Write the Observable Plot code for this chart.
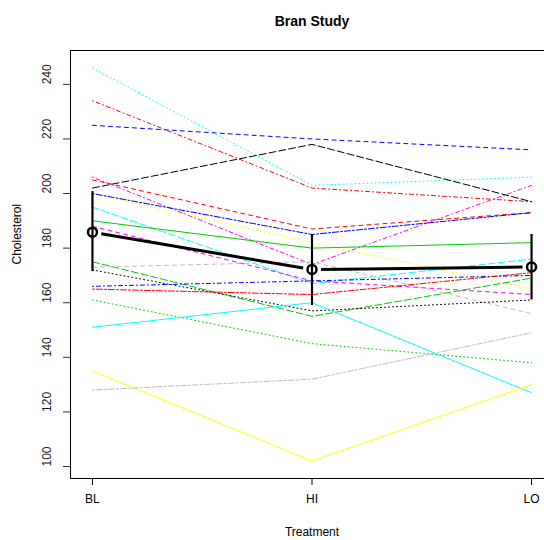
<!DOCTYPE html>
<html><head><meta charset="utf-8">
<script src="https://cdn.jsdelivr.net/npm/d3@7"></script>
<script src="https://cdn.jsdelivr.net/npm/@observablehq/plot@0.6"></script>
<style>
body{margin:0;background:#fff;}
#chart{width:544px;height:540px;}
</style>
</head><body><div id="chart"></div>
<script>
const treatments = ["BL", "HI", "LO"];
const yTicks = [100, 120, 140, 160, 180, 200, 220, 240];
// cholesterol per subject at BL, HI, LO
const blValues = [246, 234, 225, 206, 205, 202, 200, 200, 195, 190, 188, 175, 173, 172, 166, 165, 161, 151, 135, 128];
const hiValues = [203, 202, 220, 174, 187, 218, 182, 185, 167, 180, 168, 155, 175, 157, 168, 163, 145, 160, 102, 132];
const loValues = [206, 197, 216, 203, 193, 197, 165, 193, 176, 182, 163, 169, 156, 161, 170, 171, 138, 127, 130, 149];
// confidence interval ends around the treatment means
const ciLower = [171.4, 159, 161];
const ciUpper = [200.7, 185, 185];

// styles (R palette and line types)
const lineColors = ["#00FFFF","#FF0000","#0000FF","#FF00FF","#FF0000","#000000","#FFFF00","#0000FF","#00FFFF","#00CD00",
                    "#FF00FF","#00CD00","#BEBEBE","#000000","#0000FF","#FF0000","#00CD00","#00FFFF","#FFFF00","#BEBEBE"];
const lineTypes = ["dotted","dotdash","dashed","dotdash","dashed","longdash","dotted","twodash","longdash","solid",
                   "dashed","longdash","dashed","dotted","dotdash","twodash","dotted","solid","solid","twodash"];
const dashMap = {solid: null, dashed: "4,4", dotted: "1,3", dotdash: "1,3,4,3", longdash: "7,3", twodash: "2,2,6,2"};

const series = [blValues, hiValues, loValues];
const subjects = blValues.map((_, i) => treatments.map((t, j) => ({x: j + 1, y: series[j][i]})));
const means = treatments.map((t, j) => ({x: j + 1, y: d3.mean(series[j]), lo: ciLower[j], hi: ciUpper[j]}));

const xDomain = [0.9, 3.1], xRange = [70, 553];
const yDomain = [95.6, 252.4], yRange = [478, 50];
const sx = d3.scaleLinear(xDomain, xRange), sy = d3.scaleLinear(yDomain, yRange);
// mean line drawn R type="b": segments stop short of the points
const gap = 9;
const meanSegs = d3.pairs(means).map(([a, b]) => {
  const x1 = sx(a.x), y1 = sy(a.y), x2 = sx(b.x), y2 = sy(b.y);
  const d = Math.hypot(x2 - x1, y2 - y1), ux = (x2 - x1) / d, uy = (y2 - y1) / d;
  return {x1: sx.invert(x1 + ux * gap), y1: sy.invert(y1 + uy * gap), x2: sx.invert(x2 - ux * gap), y2: sy.invert(y2 - uy * gap)};
});

const marks = [
  Plot.ruleY([yDomain[1]], {stroke: "black"}),
  Plot.ruleY([yDomain[0]], {stroke: "black"}),
  Plot.ruleX([xDomain[0]], {stroke: "black"}),
  ...subjects.map((s, i) => Plot.line(s, {x: "x", y: "y", stroke: lineColors[i], strokeWidth: 1, strokeDasharray: dashMap[lineTypes[i]]})),
  Plot.link(meanSegs, {x1: "x1", y1: "y1", x2: "x2", y2: "y2", stroke: "black", strokeWidth: 3}),
  Plot.ruleX(means, {x: "x", y1: "lo", y2: "hi", stroke: "black", strokeWidth: 2.2}),
  Plot.dot(means, {x: "x", y: "y", r: 4.5, stroke: "black", strokeWidth: 2.5, fill: "none"}),
  Plot.axisY({ticks: yTicks, tickSize: 7, tickFormat: () => "", label: null, stroke: "#333"}),
  Plot.text(yTicks, {y: d => d, text: d => String(d), frameAnchor: "left", dx: -23, rotate: -90, fontSize: 12, fill: "#222"}),
  Plot.axisX({ticks: [1, 2, 3], tickSize: 7, tickFormat: d => treatments[d - 1], tickPadding: 9, fontSize: 12, label: null}),
  Plot.text(["Cholesterol"], {frameAnchor: "left", dx: -53, rotate: -90, text: d => d, fontSize: 12}),
  Plot.text(["Treatment"], {x: 2, frameAnchor: "bottom", dy: 57, text: d => d, fontSize: 12}),
  Plot.text(["Bran Study"], {x: 2, frameAnchor: "top", dy: -34, text: d => d, fontSize: 14, fontWeight: "bold"})
];

const chart = Plot.plot({
  width: 544, height: 540,
  marginLeft: 70, marginRight: 0, marginTop: 50, marginBottom: 62,
  x: {type: "linear", domain: xDomain, range: xRange},
  y: {type: "linear", domain: yDomain},
  style: {fontFamily: "'Liberation Sans', Arial, sans-serif", fontSize: "12px", background: "white", color: "black", overflow: "hidden"},
  marks
});
document.getElementById("chart").append(chart);
</script>
</body></html>
